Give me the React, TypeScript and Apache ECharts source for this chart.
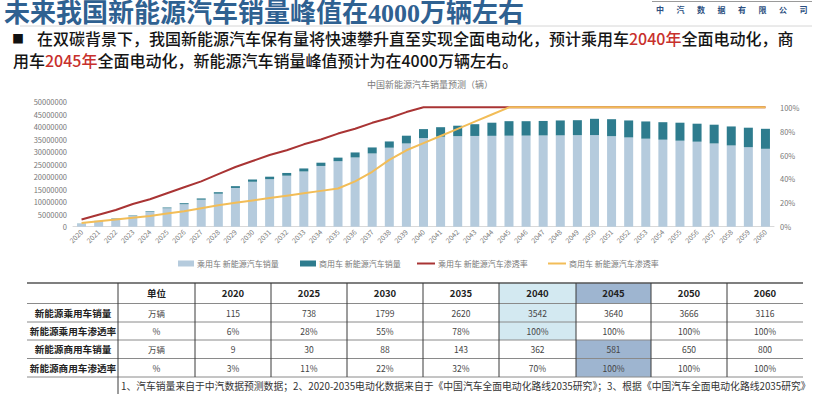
import React, { useEffect, useRef } from "react";
import * as echarts from "echarts";

const years: string[] = [];
for (let y = 2020; y <= 2060; y++) years.push(String(y));

// 万辆
const passengerSales = [
  115, 220, 320, 430, 590, 738, 900, 1080, 1320, 1550, 1799,
  1900, 2040, 2210, 2430, 2620, 2770, 2930, 3160, 3330, 3542,
  3600, 3620, 3630, 3635, 3640, 3645, 3650, 3655, 3660, 3666,
  3620, 3570, 3520, 3480, 3440, 3400, 3330, 3250, 3180, 3116,
];
const commercialSales = [
  9, 12, 15, 18, 24, 30, 40, 50, 60, 72, 88,
  100, 110, 120, 130, 143, 200, 240, 250, 310, 362,
  380, 420, 470, 525, 581, 575, 580, 595, 600, 650,
  680, 680, 690, 700, 720, 720, 750, 760, 780, 800,
];
// %
const passengerPen = [
  6, 10, 14, 19, 23, 28, 33, 38, 44, 50, 55,
  60, 64, 69, 73, 78, 82, 87, 91, 96, 100,
  100, 100, 100, 100, 100, 100, 100, 100, 100, 100,
  100, 100, 100, 100, 100, 100, 100, 100, 100, 100,
];
const commercialPen = [
  3, 4.5, 6, 7.5, 9, 11, 13, 15.5, 18, 20, 22,
  24, 26, 28, 30, 32, 38, 46, 56, 64, 70,
  76, 82, 88, 94, 100, 100, 100, 100, 100, 100,
  100, 100, 100, 100, 100, 100, 100, 100, 100, 100,
];

const seriesNames = [
  "乘用车 新能源汽车销量",
  "商用车 新能源汽车销量",
  "乘用车 新能源汽车渗透率",
  "商用车 新能源汽车渗透率",
];
const seriesColors = ["#b5cbdd", "#2e7c8e", "#a93434", "#f2bd58"];

const tableHeader = ["单位", "2020", "2025", "2030", "2035", "2040", "2045", "2050", "2060"];
const rowLabels = ["新能源乘用车销量", "新能源乘用车渗透率", "新能源商用车销量", "新能源商用车渗透率"];
const rowUnits = ["万辆", "%", "万辆", "%"];
const rowPassengerSales = ["115", "738", "1799", "2620", "3542", "3640", "3666", "3116"];
const rowPassengerPen = ["6%", "28%", "55%", "78%", "100%", "100%", "100%", "100%"];
const rowCommercialSales = ["9", "30", "88", "143", "362", "581", "650", "800"];
const rowCommercialPen = ["3%", "11%", "22%", "32%", "70%", "100%", "100%", "100%"];

const titleText = "未来我国新能源汽车销量峰值在4000万辆左右";
const logoChars = ["中", "汽", "数", "据", "有", "限", "公", "司"];
const chartTitle = "中国新能源汽车销量预测（辆）";
const footnote =
  "1、汽车销量来自于中汽数据预测数据；2、2020-2035电动化数据来自于《中国汽车全面电动化路线2035研究》；3、根据《中国汽车全面电动化路线2035研究》";

const CJK = '"Noto Sans CJK SC", "Noto Sans", sans-serif';

export default function App() {
  const ref = useRef<HTMLDivElement>(null);
  useEffect(() => {
    if (!ref.current) return;
    const chart = echarts.init(ref.current, null, { renderer: "svg" });

    const colX = [27, 118, 195, 271, 347, 423, 499, 576, 651, 727, 803];
    const rowY = [283, 303.5, 322, 340, 358.5, 377];
    const rowsData = [rowPassengerSales, rowPassengerPen, rowCommercialSales, rowCommercialPen];

    const g: any[] = [];
    g.push({ type: "rect", shape: { x: colX[6], y: rowY[0], width: colX[7] - colX[6], height: rowY[3] - rowY[0] }, style: { fill: "#d3e9f1" } });
    g.push({ type: "rect", shape: { x: colX[7], y: rowY[0], width: colX[8] - colX[7], height: rowY[1] - rowY[0] }, style: { fill: "#9eb5d0" } });
    g.push({ type: "rect", shape: { x: colX[7], y: rowY[3], width: colX[8] - colX[7], height: rowY[5] - rowY[3] }, style: { fill: "#9eb5d0" } });
    rowY.forEach((y, i) => {
      g.push({ type: "line", shape: { x1: colX[0], y1: y, x2: colX[10], y2: y }, style: { stroke: i === 0 ? "#555" : "#8a8a8a", lineWidth: i === 0 ? 1.4 : 1 } });
    });
    for (let c = 1; c <= 9; c++) {
      g.push({ type: "line", shape: { x1: colX[c], y1: rowY[0], x2: colX[c], y2: c === 1 ? 394 : rowY[5] }, style: { stroke: "#3a3a3a", lineWidth: 1 } });
    }
    tableHeader.forEach((t, i) => {
      g.push({ type: "text", style: { text: t, x: (colX[i + 1] + colX[i + 2]) / 2, y: (rowY[0] + rowY[1]) / 2, textAlign: "center", textVerticalAlign: "middle", fontSize: 9.5, fontWeight: "bold", fontFamily: CJK, fill: "#222" } });
    });
    rowLabels.forEach((lab, r) => {
      const cy = (rowY[r + 1] + rowY[r + 2]) / 2;
      g.push({ type: "text", style: { text: lab, x: (colX[0] + colX[1]) / 2 + 0.5, y: cy, textAlign: "center", textVerticalAlign: "middle", fontSize: 9.6, fontWeight: "bold", fontFamily: CJK, fill: "#222" } });
      g.push({ type: "text", style: { text: rowUnits[r], x: (colX[1] + colX[2]) / 2, y: cy, textAlign: "center", textVerticalAlign: "middle", fontSize: 8.5, fontFamily: CJK, fill: "#444" } });
      rowsData[r].forEach((v, c) => {
        g.push({ type: "text", style: { text: v, x: (colX[c + 2] + colX[c + 3]) / 2, y: cy, textAlign: "center", textVerticalAlign: "middle", fontSize: 8.5, fontFamily: CJK, fill: "#444" } });
      });
    });
    g.push({ type: "text", style: { text: footnote, x: 121, y: 386, textVerticalAlign: "middle", fontSize: 9.8, fontFamily: CJK, fill: "#333" } });

    // page header
    g.push({ type: "text", style: { text: titleText, x: 4, y: 13.5, textVerticalAlign: "middle", fontSize: 26, fontWeight: "bold", fontFamily: '"Liberation Serif", "Noto Sans CJK SC", serif', fill: "#2f6191" } });
    g.push({ type: "line", shape: { x1: 652, y1: 1.5, x2: 812, y2: 1.5 }, style: { stroke: "#9a9a9a", lineWidth: 1 } });
    logoChars.forEach((ch, i) => {
      g.push({ type: "text", style: { text: ch, x: 660 + i * 20.5, y: 9.5, textAlign: "center", textVerticalAlign: "middle", fontSize: 8, fontWeight: "bold", fontFamily: CJK, fill: "#2c4f80" } });
    });
    g.push({ type: "line", shape: { x1: 20, y1: 26, x2: 812, y2: 26 }, style: { stroke: "#d6d6d6", lineWidth: 1 } });
    g.push({ type: "text", style: { text: "■", x: 12, y: 38, textVerticalAlign: "middle", fontSize: 12, fontFamily: CJK, fill: "#111" } });
    const rich = {
      n: { fontSize: 16, fontWeight: 500, lineHeight: 17, fontFamily: CJK, fill: "#151515", color: "#151515" },
      r: { fontSize: 16, fontWeight: 500, lineHeight: 17, fontFamily: CJK, fill: "#c8302c", color: "#c8302c" },
    };
    g.push({ type: "text", style: { text: "{n|在双碳背景下，我国新能源汽车保有量将快速攀升直至实现全面电动化，预计乘用车}{r|2040年}{n|全面电动化，商}", x: 37, y: 37.5, textVerticalAlign: "middle", rich } });
    g.push({ type: "text", style: { text: "{n|用车}{r|2045年}{n|全面电动化，新能源汽车销量峰值预计为在4000万辆左右。}", x: 13, y: 60, textVerticalAlign: "middle", rich } });
    g.push({ type: "text", style: { text: chartTitle, x: 430, y: 84, textAlign: "center", textVerticalAlign: "middle", fontSize: 9, fontFamily: CJK, fill: "#7a7a7a" } });

    // legend (drawn manually)
    const legendX = [178, 300, 417, 548];
    const legendTextX = [197, 319, 438, 569];
    const ly = 263.5;
    seriesNames.forEach((name, i) => {
      if (i < 2) {
        g.push({ type: "rect", shape: { x: legendX[i], y: ly - 3, width: 16, height: 6 }, style: { fill: seriesColors[i] } });
      } else {
        g.push({ type: "line", shape: { x1: legendX[i], y1: ly, x2: legendX[i] + 18, y2: ly }, style: { stroke: seriesColors[i], lineWidth: 2 } });
      }
      g.push({ type: "text", style: { text: name, x: legendTextX[i], y: ly, textVerticalAlign: "middle", fontSize: 8, fontFamily: CJK, fill: "#777" } });
    });

    chart.setOption({
      animation: false,
      textStyle: { fontFamily: CJK },
      grid: { left: 73, right: 46, top: 101.7, bottom: 167.3, containLabel: false },
      xAxis: {
        type: "category",
        data: years,
        axisLine: { lineStyle: { color: "#d9d9d9" } },
        axisTick: { show: false },
        axisLabel: { rotate: 45, interval: 0, fontSize: 7, color: "#777", margin: 4 },
      },
      yAxis: [
        {
          type: "value",
          min: 0,
          max: 50000000,
          interval: 5000000,
          splitLine: { show: false },
          axisLine: { show: false },
          axisTick: { show: false },
          axisLabel: { fontSize: 7.5, color: "#777", margin: 6, formatter: (v: number) => String(v) },
        },
        {
          type: "value",
          min: 0,
          max: 104.7,
          interval: 20,
          splitLine: { show: false },
          axisLine: { show: false },
          axisTick: { show: false },
          axisLabel: {
            fontSize: 7.5,
            color: "#777",
            margin: 6,
            showMaxLabel: false,
            formatter: (v: number) => (v > 100 ? "" : v + "%"),
          },
        },
      ],
      series: [
        {
          name: seriesNames[0],
          type: "bar",
          stack: "sales",
          barWidth: 9,
          itemStyle: { color: seriesColors[0] },
          data: passengerSales.map((v) => v * 10000),
        },
        {
          name: seriesNames[1],
          type: "bar",
          stack: "sales",
          barWidth: 9,
          itemStyle: { color: seriesColors[1] },
          data: commercialSales.map((v) => v * 10000),
        },
        {
          name: seriesNames[2],
          type: "line",
          yAxisIndex: 1,
          symbol: "none",
          lineStyle: { color: seriesColors[2], width: 2 },
          itemStyle: { color: seriesColors[2] },
          data: passengerPen,
        },
        {
          name: seriesNames[3],
          type: "line",
          yAxisIndex: 1,
          symbol: "none",
          lineStyle: { color: seriesColors[3], width: 2 },
          itemStyle: { color: seriesColors[3] },
          data: commercialPen,
        },
      ],
      graphic: { elements: g },
    });
    return () => chart.dispose();
  }, []);
  return (
    <div
      ref={ref}
      style={{ position: "absolute", left: 0, top: 0, width: 820, height: 394, background: "#fff" }}
    />
  );
}
